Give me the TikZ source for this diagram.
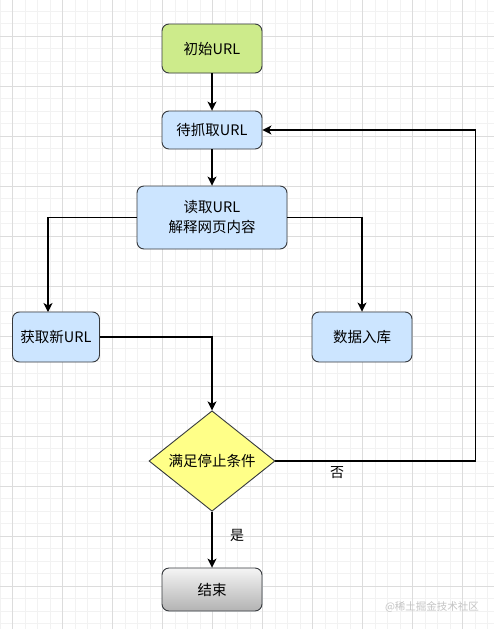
\documentclass[tikz,border=0pt]{standalone}
\usepackage{fontspec}
\setmainfont{Noto Sans CJK SC}
\usetikzlibrary{shapes.geometric, arrows.meta}

\definecolor{boxline}{HTML}{36393D}
\definecolor{bluefill}{HTML}{CCE5FF}
\definecolor{greenfill}{HTML}{CDEB8B}
\definecolor{yellowfill}{HTML}{FFFF88}
\definecolor{majorgrid}{HTML}{DCDCDC}
\definecolor{minorgrid}{HTML}{F2F2F2}
\definecolor{marktext}{HTML}{C4C4C4}

\tikzset{
  box/.style={rectangle, rounded corners=7pt, draw=boxline, line width=0.9pt,
    fill=bluefill, minimum width=100pt, minimum height=38pt, inner sep=0pt,
    align=center, font=\fontsize{14.5}{20}\selectfont},
  decision/.style={diamond, draw=boxline, line width=0.9pt, fill=yellowfill,
    minimum width=126pt, minimum height=98pt, inner sep=0pt,
    font=\fontsize{14.5}{20}\selectfont},
  link/.style={line width=1.2pt, -{Stealth[length=9pt, width=9pt, inset=2.5pt]}},
  lbl/.style={font=\fontsize{14}{16}\selectfont, inner sep=0pt}
}

\begin{document}
\begin{tikzpicture}[x=1pt, y=-1pt]
      \useasboundingbox (0,0) rectangle (494,629);
      \fill[white] (0,0) rectangle (494,629);
      % grid
      \foreach \gx in {0,12.5,...,494} {
        \draw[minorgrid, line width=0.6pt] (\gx,0) -- (\gx,629);
      }
      \foreach \gy in {11,23.5,...,629} {
        \draw[minorgrid, line width=0.6pt] (0,\gy) -- (494,\gy);
      }
      \foreach \gx in {12.5,62.5,...,494} {
        \draw[majorgrid, line width=0.8pt] (\gx,0) -- (\gx,629);
      }
      \foreach \gy in {36,86,...,629} {
        \draw[majorgrid, line width=0.8pt] (0,\gy) -- (494,\gy);
      }
      % nodes
      \node[box, fill=greenfill, minimum height=49pt] (start) at (212,48.5) {初始URL};
      \node[box] (queue) at (212,130) {待抓取URL};
      \node[box, minimum width=150pt, minimum height=63pt] (parse) at (212,217.5) {读取URL\\解释网页内容};
      \node[box, minimum width=87pt, minimum height=50pt] (newurl) at (56,337) {获取新URL};
      \node[box, minimum height=50pt] (store) at (362,337) {数据入库};
      \node[decision] (check) at (212,461) {满足停止条件};
      \node[box, top color=white!96!black, bottom color=black!30, minimum height=43pt] (finish) at (212,589.5) {结束};
      \coordinate (newurltop) at (48,312);
      % connectors
      \draw[link] (start) -- (queue);
      \draw[link] (queue) -- (parse);
      \draw[link] (parse.west) -| (newurltop);
      \draw[link] (parse.east) -| (store.north);
      \draw[link] (newurl.east) -| (check.north);
      \draw[link] (check) -- (finish);
      \draw[link] (check.east) -- ++(200,0) |- (queue.east);
      % labels
      \node[lbl] (no) at (337,473) {否};
      \node[lbl] (yes) at (237,535) {是};
      \node[font=\fontsize{10.5}{12}\selectfont, text=marktext, inner sep=0pt] (mark) at (432,607) {@稀土掘金技术社区};
    \end{tikzpicture}
\end{document}
